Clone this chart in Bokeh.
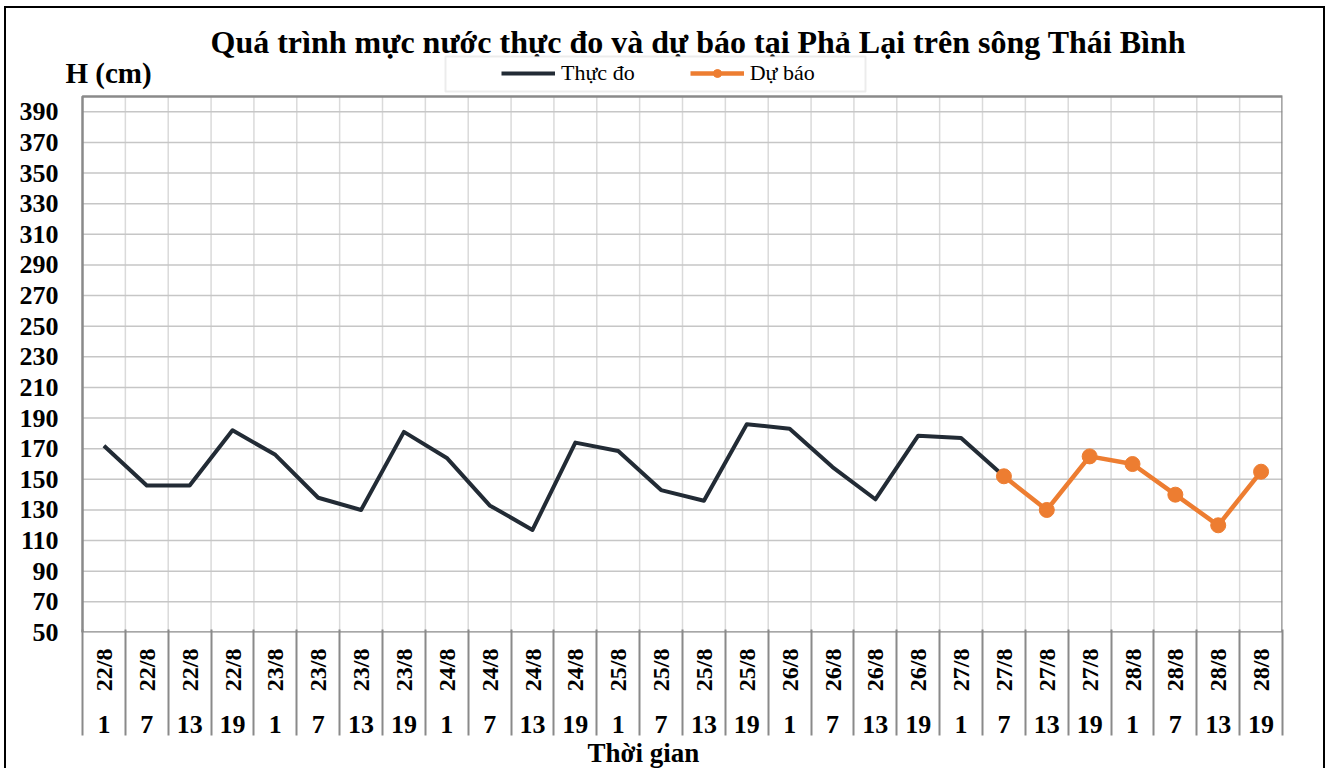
from math import pi
from bokeh.plotting import figure
from bokeh.models import (FixedTicker, LinearAxis, Range1d, Legend, LegendItem,
                          Title, Label, BoxAnnotation)
from bokeh.embed import file_html
from bokeh.resources import INLINE

# ---- data ----
dates = ["22/8", "22/8", "22/8", "22/8", "23/8", "23/8", "23/8", "23/8",
         "24/8", "24/8", "24/8", "24/8", "25/8", "25/8", "25/8", "25/8",
         "26/8", "26/8", "26/8", "26/8", "27/8", "27/8", "27/8", "27/8",
         "28/8", "28/8", "28/8", "28/8"]
hours = ["1", "7", "13", "19", "1", "7", "13", "19",
         "1", "7", "13", "19", "1", "7", "13", "19",
         "1", "7", "13", "19", "1", "7", "13", "19",
         "1", "7", "13", "19"]
observed = [172, 146, 146, 182, 166, 138, 130, 181, 164, 133, 117, 174,
            168.5, 143, 136, 186, 183, 158, 137, 178.5, 177, 152]
forecast = [152, 130, 165, 160, 140, 120, 155]
y_ticks = [50, 70, 90, 110, 130, 150, 170, 190, 210, 230, 250, 270,
           290, 310, 330, 350, 370, 390]
y_min, y_max = 50, 400

title_text = "Quá trình mực nước thực đo và dự báo tại Phả Lại trên sông Thái Bình"
y_title = "H (cm)"
x_title = "Thời gian"
obs_name = "Thực đo"
fc_name = "Dự báo"

# ---- layout (pixels inside the figure) ----
W, H = 1321, 762
FRAME_L, FRAME_R, FRAME_B = 54, 1276, 624   # frame (drawing region)
PLOT_L, PLOT_T = 76, 88                      # plot area left / top edge

n = len(dates)
x_lo, x_hi = -0.5, n - 0.5
px_per_cat = (FRAME_R - PLOT_L) / n
px_per_unit = (FRAME_B - PLOT_T) / (y_max - y_min)
x_start = x_lo - (PLOT_L - FRAME_L) / px_per_cat
y_end = y_max + PLOT_T / px_per_unit

x_all = list(range(n))
x_obs = x_all[:len(observed)]
x_fc = x_all[len(observed) - 1:len(observed) - 1 + len(forecast)]
bounds = [i - 0.5 for i in range(n + 1)]
inner_bounds = bounds[1:-1]
inner_y = [t for t in y_ticks if t > y_min]

SERIF = "Liberation Serif"
DARK = "#222b35"
ORANGE = "#ed7d31"
EDGE = "#8a8a8a"

p = figure(width=W, height=H, title=None,
           x_range=Range1d(x_start, x_hi), y_range=Range1d(y_min, y_end),
           x_axis_type=None, output_backend="svg", toolbar_location=None,
           min_border_left=FRAME_L, min_border_right=W - FRAME_R,
           min_border_top=0, min_border_bottom=H - FRAME_B)
p.styles = {"margin-left": "4px", "margin-top": "6px",
            "border-top": "2px solid black", "border-left": "2px solid black",
            "border-right": "2px solid black"}

p.outline_line_color = None
p.background_fill_color = "white"
p.border_fill_color = "white"
p.xgrid.visible = False
p.ygrid.visible = False

# grid lines inside the plot area
p.segment(x0=inner_bounds, y0=[y_min] * len(inner_bounds),
          x1=inner_bounds, y1=[y_max] * len(inner_bounds),
          line_color="#dadada", line_width=1.5)
p.segment(x0=[x_lo] * len(inner_y), y0=inner_y,
          x1=[x_hi] * len(inner_y), y1=inner_y,
          line_color="#c6c6c6", line_width=1.5)
# plot-area border
p.quad(left=[x_lo], right=[x_hi], bottom=[y_min], top=[y_max],
       fill_color=None, line_color=EDGE, line_width=2.5)

# y axis
yax = p.yaxis[0]
yax.ticker = FixedTicker(ticks=y_ticks)
yax.axis_line_color = None
yax.major_tick_out = 0
yax.major_tick_in = 0
yax.minor_tick_out = 0
yax.minor_tick_in = 0
yax.major_label_standoff = 2
yax.major_label_text_font = SERIF
yax.major_label_text_font_style = "bold"
yax.major_label_text_font_size = "26px"
yax.major_label_text_color = "black"

# x axis: dates (rotated)
ax_dates = LinearAxis(
    ticker=FixedTicker(ticks=x_all),
    major_label_overrides={i: d for i, d in zip(x_all, dates)},
    major_label_orientation=pi / 2,
    axis_line_color=None,
    major_tick_out=0, major_tick_in=0,
    minor_tick_in=0, minor_tick_out=0,
    major_label_standoff=16,
    major_label_text_font=SERIF, major_label_text_font_style="bold",
    major_label_text_font_size="24px", major_label_text_color="black",
)
p.add_layout(ax_dates, "below")

# x axis: hours
ax_hours = LinearAxis(
    ticker=FixedTicker(ticks=x_all),
    major_label_overrides={i: h for i, h in zip(x_all, hours)},
    axis_line_color=None,
    major_tick_out=0, major_tick_in=0,
    minor_tick_in=0, minor_tick_out=0,
    major_label_standoff=21,
    major_label_text_font=SERIF, major_label_text_font_style="bold",
    major_label_text_font_size="26px", major_label_text_color="black",
)
p.add_layout(ax_hours, "below")

# separator lines of the category area (ticks drawn upward to the plot edge)
ax_sep = LinearAxis(
    ticker=FixedTicker(ticks=[], minor_ticks=bounds),
    axis_line_color=None,
    major_tick_out=0, major_tick_in=0,
    minor_tick_in=106, minor_tick_out=0,
    minor_tick_line_color=EDGE, minor_tick_line_width=2,
    major_label_standoff=0, major_label_text_font_size="0px",
)
p.add_layout(ax_sep, "below")

p.add_layout(Title(text=x_title, align="left", offset=527,
                   text_font=SERIF, text_font_style="bold",
                   text_font_size="27px", text_color="black", standoff=0),
             "below")

# main title and y title (inside the drawing region)
p.add_layout(Label(x=204 - FRAME_L, y=FRAME_B - 33, x_units="screen", y_units="screen",
                   text=title_text, text_font=SERIF, text_font_style="bold",
                   text_font_size="32px", text_color="black",
                   text_baseline="middle", text_align="left"))
p.add_layout(Label(x=59 - FRAME_L, y=FRAME_B - 64, x_units="screen", y_units="screen",
                   text=y_title, text_font=SERIF, text_font_style="bold",
                   text_font_size="29px", text_color="black",
                   text_baseline="middle", text_align="left"))

# series
r_obs = p.line(x_obs, observed, line_color=DARK, line_width=4, line_join="round")
r_fc = p.line(x_fc, forecast, line_color=ORANGE, line_width=4.5, line_join="round")
r_fc_pts = p.scatter(x_fc, forecast, marker="circle", size=15,
                     fill_color=ORANGE, line_color=ORANGE)

# legend frame
p.add_layout(BoxAnnotation(left=439 - FRAME_L, right=859 - FRAME_L,
                           top=FRAME_B - 48, bottom=FRAME_B - 83,
                           left_units="screen", right_units="screen",
                           top_units="screen", bottom_units="screen",
                           fill_color="white", fill_alpha=1,
                           line_color="#bfbfbf", line_width=2, level="annotation"))

legend = Legend(
    items=[LegendItem(label=obs_name, renderers=[r_obs]),
           LegendItem(label=fc_name, renderers=[r_fc, r_fc_pts])],
    location=(495 - FRAME_L, FRAME_B - 78), orientation="horizontal",
    glyph_width=54, glyph_height=20, label_standoff=6, spacing=55,
    padding=9, border_line_color=None, background_fill_alpha=0,
    label_text_font=SERIF, label_text_font_size="22px", label_text_color="black",
)
p.add_layout(legend)

open("out.html", "w").write(file_html(p, INLINE))
